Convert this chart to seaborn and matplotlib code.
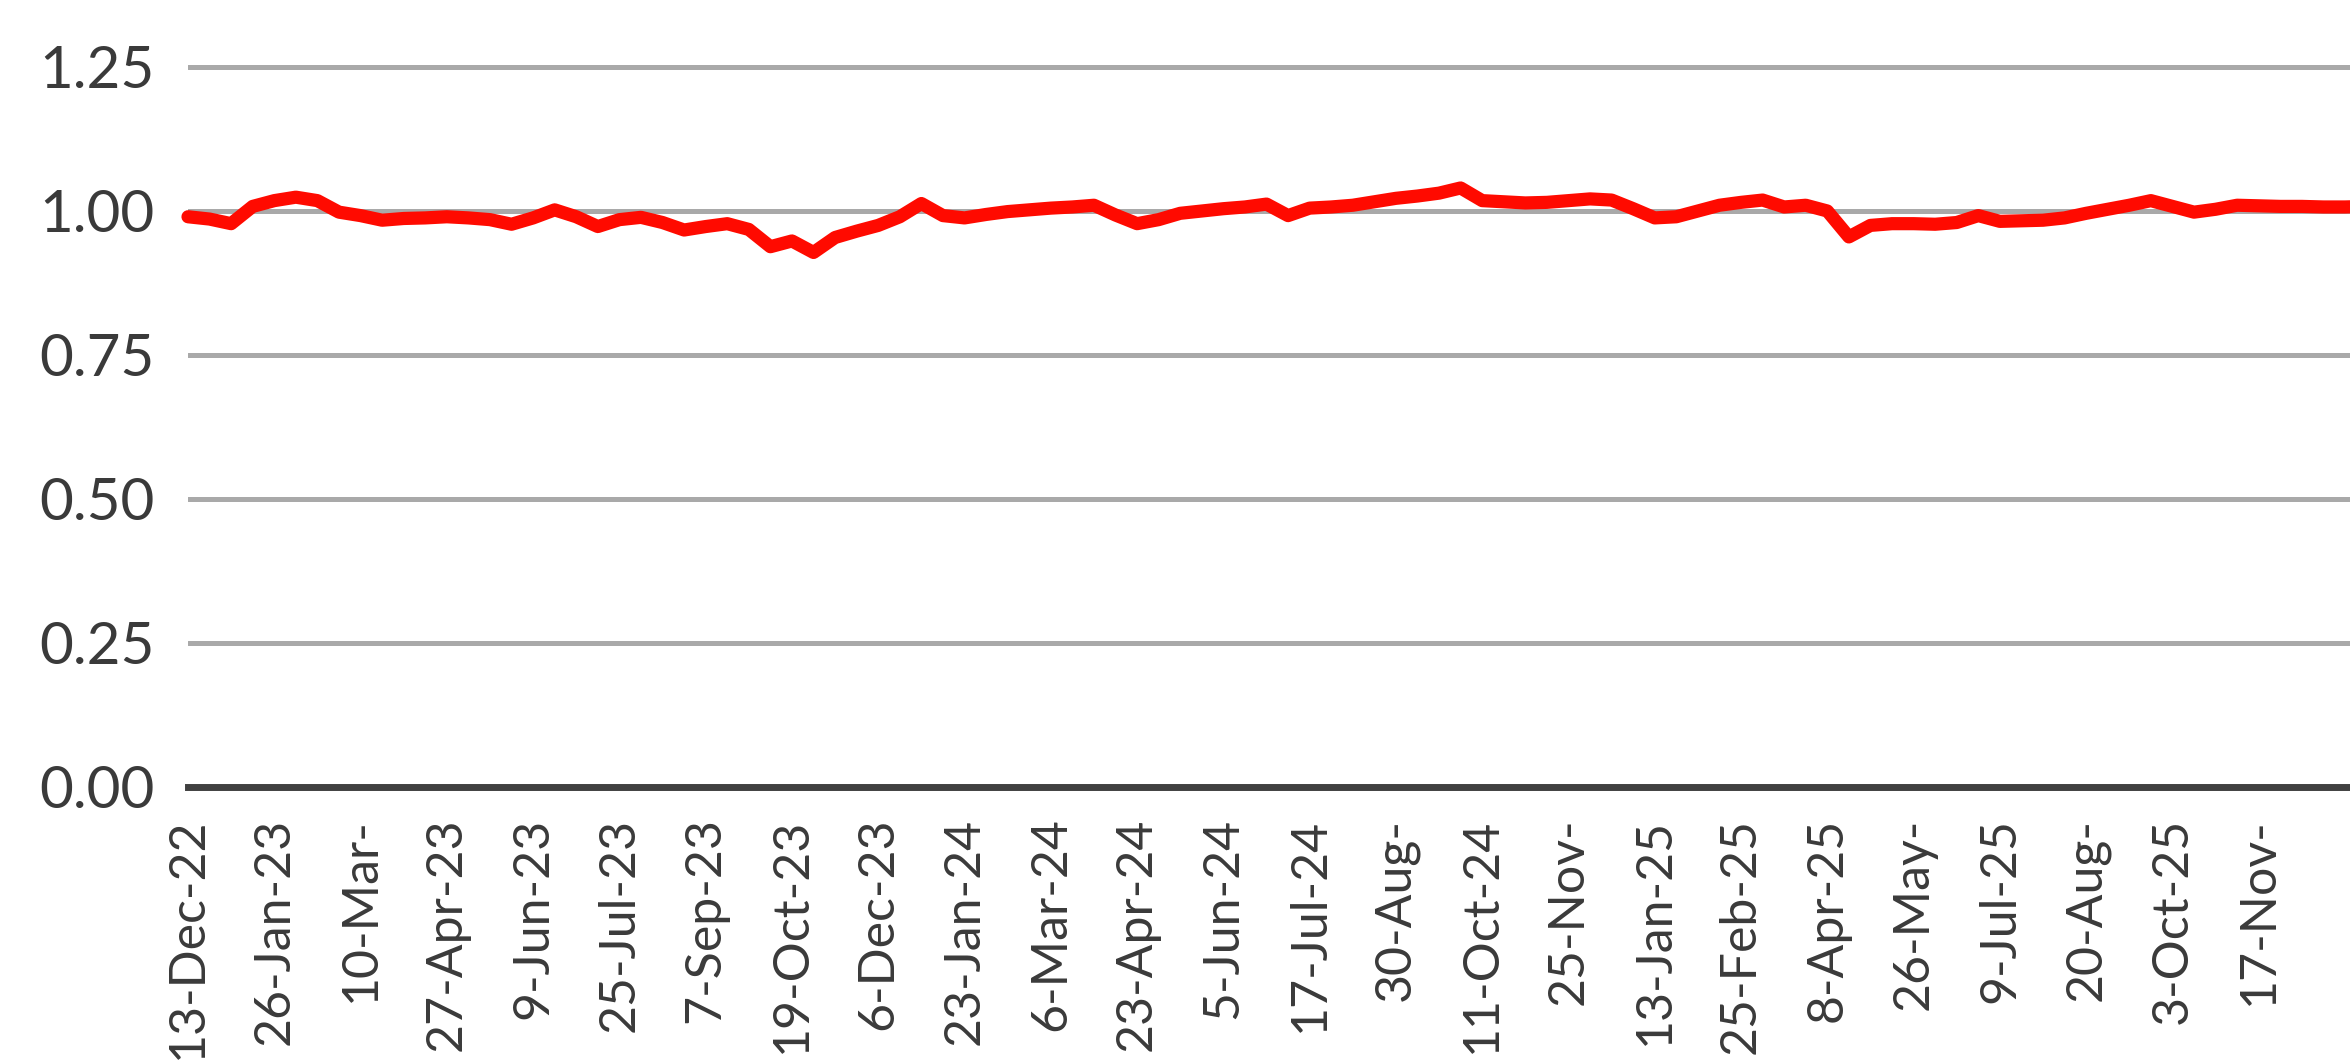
import matplotlib
matplotlib.use("Agg")
import matplotlib.pyplot as plt
import seaborn as sns
import pandas as pd
import numpy as np

# ---- data ----
tick_labels = ["13-Dec-22", "26-Jan-23", "10-Mar-", "27-Apr-23", "9-Jun-23", "25-Jul-23",
               "7-Sep-23", "19-Oct-23", "6-Dec-23", "23-Jan-24", "6-Mar-24", "23-Apr-24",
               "5-Jun-24", "17-Jul-24", "30-Aug-", "11-Oct-24", "25-Nov-", "13-Jan-25",
               "25-Feb-25", "8-Apr-25", "26-May-", "9-Jul-25", "20-Aug-", "3-Oct-25", "17-Nov-"]
points_per_label = 4

values = [0.990, 0.986, 0.978, 1.008, 1.018, 1.024, 1.018, 0.998, 0.992, 0.984,
          0.987, 0.988, 0.990, 0.988, 0.985, 0.977, 0.988, 1.002, 0.990, 0.973,
          0.985, 0.989, 0.980, 0.967, 0.973, 0.978, 0.968, 0.938, 0.948, 0.928,
          0.954, 0.965, 0.975, 0.990, 1.013, 0.992, 0.988, 0.994, 0.999, 1.002,
          1.005, 1.007, 1.010, 0.993, 0.978, 0.985, 0.996, 1.000, 1.004, 1.007,
          1.012, 0.992, 1.005, 1.007, 1.010, 1.016, 1.022, 1.026, 1.031, 1.040,
          1.018, 1.016, 1.014, 1.015, 1.018, 1.021, 1.019, 1.004, 0.988, 0.990,
          1.000, 1.010, 1.015, 1.019, 1.007, 1.010, 1.000, 0.955, 0.975, 0.978,
          0.978, 0.977, 0.980, 0.992, 0.982, 0.983, 0.984, 0.988, 0.996, 1.003,
          1.010, 1.018, 1.008, 0.998, 1.003, 1.010, 1.009, 1.008, 1.008, 1.007,
          1.007, 1.008]

y_ticks = [0.00, 0.25, 0.50, 0.75, 1.00, 1.25]

df = pd.DataFrame({"step": np.arange(len(values)), "value": values})

# ---- style ----
sns.set_theme(style="white")
plt.rcParams["font.family"] = ["Lato", "DejaVu Sans"]
text_color = "#3a3a3a"

W, H = 2350, 1060
fig = plt.figure(figsize=(W / 100, H / 100), dpi=100)
fig.patch.set_facecolor("white")

ax_left_px, ax_right_px = 188, 2350
ax_top_px, ax_bottom_px = 50, 787
ax = fig.add_axes([ax_left_px / W, (H - ax_bottom_px) / H,
                   (ax_right_px - ax_left_px) / W, (ax_bottom_px - ax_top_px) / H])
ax.set_facecolor("white")

sns.lineplot(data=df, x="step", y="value", ax=ax, color="#FF0A00",
             linewidth=9.5, legend=False)
for ln in ax.lines:
    ln.set_clip_on(False)
    ln.set_solid_capstyle("round")
    ln.set_solid_joinstyle("round")

# axes scales: first category at x=185px, 21.6 px per step
px_per_step = 21.6
first_px = 185
ax.set_xlim((ax_left_px - first_px) / px_per_step,
            (ax_right_px - first_px) / px_per_step)
ax.set_ylim(0, (ax_bottom_px - ax_top_px) / 576)

ax.set_yticks(y_ticks)
ax.set_yticklabels([f"{v:.2f}" for v in y_ticks], fontsize=42, color=text_color)
ax.set_xticks(np.arange(len(tick_labels)) * points_per_label)
ax.set_xticklabels(tick_labels, rotation=90, fontsize=36, color=text_color,
                   ha="center", va="top")

ax.tick_params(axis="y", length=0, pad=24)
ax.tick_params(axis="x", length=0, pad=22)

ax.yaxis.grid(True, color="#A9A9A9", linewidth=3.6)
ax.xaxis.grid(False)
ax.set_axisbelow(True)

for s in ["top", "right", "left"]:
    ax.spines[s].set_visible(False)
ax.spines["bottom"].set_color("#404040")
ax.spines["bottom"].set_linewidth(5)

ax.set_xlabel("")
ax.set_ylabel("")

fig.savefig("out.png", dpi=100, facecolor="white")
